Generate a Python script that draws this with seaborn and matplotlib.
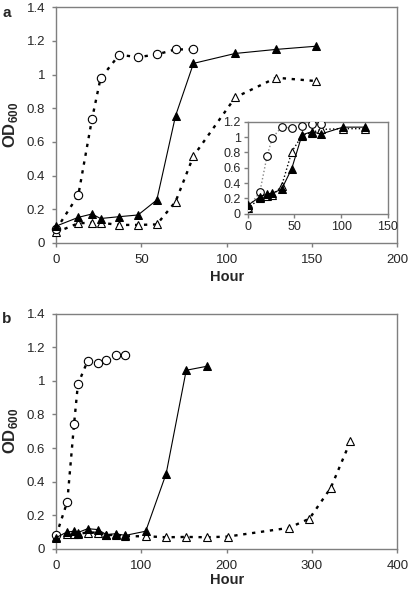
import matplotlib
matplotlib.use("Agg")
import matplotlib.pyplot as plt
import seaborn as sns

# ---------------------------------------------------------------------------
# data
# ---------------------------------------------------------------------------
# panel a, main axes
A_CIRC_X = [0, 13, 21, 26, 37, 48, 59, 70, 80.5]
A_CIRC_Y = [0.08, 0.285, 0.735, 0.977, 1.117, 1.103, 1.119, 1.149, 1.149]
A_FILL_X = [0, 13, 21, 26, 37, 48, 59, 70, 80.5, 105, 129, 152.5]
A_FILL_Y = [0.10, 0.152, 0.172, 0.145, 0.156, 0.166, 0.255, 0.755, 1.066, 1.125, 1.149, 1.168]
A_OPEN_X = [0, 13, 21, 26, 37, 48, 59, 70, 80.5, 105, 129, 152.5]
A_OPEN_Y = [0.063, 0.117, 0.12, 0.12, 0.107, 0.107, 0.11, 0.245, 0.516, 0.864, 0.981, 0.961]

# panel a, inset
I_CIRC_X = [0, 13, 20.7, 26.4, 36.3, 47.2, 58.2, 68.5, 78.5]
I_CIRC_Y = [0.075, 0.28, 0.75, 0.99, 1.13, 1.12, 1.14, 1.17, 1.17]
I_FILL_X = [0, 13, 20.7, 26.4, 36.3, 47.2, 58.2, 68.5, 78.5, 102, 126]
I_FILL_Y = [0.11, 0.22, 0.26, 0.27, 0.32, 0.59, 1.03, 1.07, 1.04, 1.13, 1.13]
I_OPEN_X = [0, 13, 20.7, 26.4, 36.3, 47.2, 58.2, 68.5, 78.5, 102, 126]
I_OPEN_Y = [0.07, 0.20, 0.235, 0.24, 0.36, 0.81, 1.02, 1.06, 1.10, 1.11, 1.11]

# panel b
B_CIRC_X = [0, 13, 21, 25.5, 37, 48.5, 59, 70, 81]
B_CIRC_Y = [0.08, 0.28, 0.744, 0.98, 1.12, 1.105, 1.125, 1.155, 1.155]
B_FILL_X = [0, 12.5, 21, 25.5, 37, 48.5, 59, 70, 81, 105, 129, 152.5, 177]
B_FILL_Y = [0.067, 0.10, 0.105, 0.097, 0.12, 0.115, 0.085, 0.09, 0.08, 0.105, 0.448, 1.063, 1.087]
B_OPEN_X = [0, 12.5, 21, 25.5, 37, 48.5, 59, 70, 81, 105, 129, 152.5, 177, 201, 273, 297, 322, 345]
B_OPEN_Y = [0.07, 0.09, 0.09, 0.09, 0.097, 0.097, 0.08, 0.085, 0.075, 0.075, 0.069, 0.071, 0.069,
            0.073, 0.125, 0.18, 0.363, 0.64]

Y_MAIN = [0, 0.2, 0.4, 0.6, 0.8, 1.0, 1.2, 1.4]
Y_MAIN_LABELS = ['0', '0.2', '0.4', '0.6', '0.8', '1', '1.2', '1.4']
Y_INSET = [0, 0.2, 0.4, 0.6, 0.8, 1.0, 1.2]
Y_INSET_LABELS = ['0', '0.2', '0.4', '0.6', '0.8', '1', '1.2']

# ---------------------------------------------------------------------------
# style
# ---------------------------------------------------------------------------
sns.set_style("white")
plt.rcParams['font.family'] = ['Liberation Sans', 'DejaVu Sans']
plt.rcParams['mathtext.fontset'] = 'custom'
plt.rcParams['mathtext.rm'] = 'Liberation Sans:bold'
plt.rcParams['mathtext.bf'] = 'Liberation Sans:bold'

SPINE = '#7f7f7f'
DOTS = (0, (1.4, 2.4))


def draw(ax, cx, cy, fx, fy, ox, oy, inset=False, ms=6):
    if inset:
        circ_kw = dict(color='#888888', lw=1.0, linestyle=':')
        open_kw = dict(color='black', lw=1.0, linestyle=':')
    else:
        circ_kw = dict(color='black', lw=1.7, linestyle=DOTS)
        open_kw = dict(color='black', lw=1.7, linestyle=DOTS)
    sns.lineplot(x=ox, y=oy, ax=ax, sort=False, estimator=None, errorbar=None,
                 marker='^', markersize=ms, markerfacecolor='white', markeredgecolor='black',
                 markeredgewidth=0.8, zorder=3, **open_kw)
    sns.lineplot(x=cx, y=cy, ax=ax, sort=False, estimator=None, errorbar=None,
                 marker='o', markersize=ms, markerfacecolor='white', markeredgecolor='black',
                 markeredgewidth=0.8, zorder=4, **circ_kw)
    sns.lineplot(x=fx, y=fy, ax=ax, sort=False, estimator=None, errorbar=None,
                 marker='^', markersize=ms, color='black', lw=0.8,
                 markerfacecolor='black', markeredgecolor='black', zorder=5)


def style_axes(ax, fs=9.5, pad=5):
    for s in ax.spines.values():
        s.set_color(SPINE)
        s.set_linewidth(1.0)
    ax.tick_params(axis='both', direction='out', length=3, width=1, color=SPINE,
                   labelsize=fs, pad=pad, bottom=True, left=True)


fig = plt.figure(figsize=(4.1, 5.94), dpi=100)

# panel a
ax_a = fig.add_axes([0.137, 0.591, 0.832, 0.397])
draw(ax_a, A_CIRC_X, A_CIRC_Y, A_FILL_X, A_FILL_Y, A_OPEN_X, A_OPEN_Y)
ax_a.set_xlim(0, 200)
ax_a.set_ylim(0, 1.4)
ax_a.set_xticks([0, 50, 100, 150, 200])
ax_a.set_yticks(Y_MAIN)
ax_a.set_yticklabels(Y_MAIN_LABELS)
style_axes(ax_a)
ax_a.set_xlabel('Hour', fontsize=10.5, fontweight='bold', labelpad=3)
ax_a.set_ylabel(r'$\mathrm{OD}_{600}$', fontsize=12, labelpad=5)

# inset
ax_i = fig.add_axes([0.604, 0.640, 0.342, 0.155])
draw(ax_i, I_CIRC_X, I_CIRC_Y, I_FILL_X, I_FILL_Y, I_OPEN_X, I_OPEN_Y, inset=True, ms=5.5)
ax_i.set_xlim(0, 150)
ax_i.set_ylim(0, 1.2)
ax_i.set_xticks([0, 50, 100, 150])
ax_i.set_yticks(Y_INSET)
ax_i.set_yticklabels(Y_INSET_LABELS)
ax_i.set_facecolor('white')
style_axes(ax_i, fs=9, pad=2)

# panel b
ax_b = fig.add_axes([0.137, 0.076, 0.832, 0.396])
draw(ax_b, B_CIRC_X, B_CIRC_Y, B_FILL_X, B_FILL_Y, B_OPEN_X, B_OPEN_Y)
ax_b.set_xlim(0, 400)
ax_b.set_ylim(0, 1.4)
ax_b.set_xticks([0, 100, 200, 300, 400])
ax_b.set_yticks(Y_MAIN)
ax_b.set_yticklabels(Y_MAIN_LABELS)
style_axes(ax_b)
ax_b.set_xlabel('Hour', fontsize=10.5, fontweight='bold', labelpad=1)
ax_b.set_ylabel(r'$\mathrm{OD}_{600}$', fontsize=12, labelpad=5)

for a in (ax_a, ax_b):
    for line in a.lines:
        line.set_clip_on(False)

fig.text(0.005, 0.99, 'a', fontsize=11, fontweight='bold', va='top', ha='left')
fig.text(0.005, 0.474, 'b', fontsize=11, fontweight='bold', va='top', ha='left')

fig.savefig('out.png', dpi=100)
